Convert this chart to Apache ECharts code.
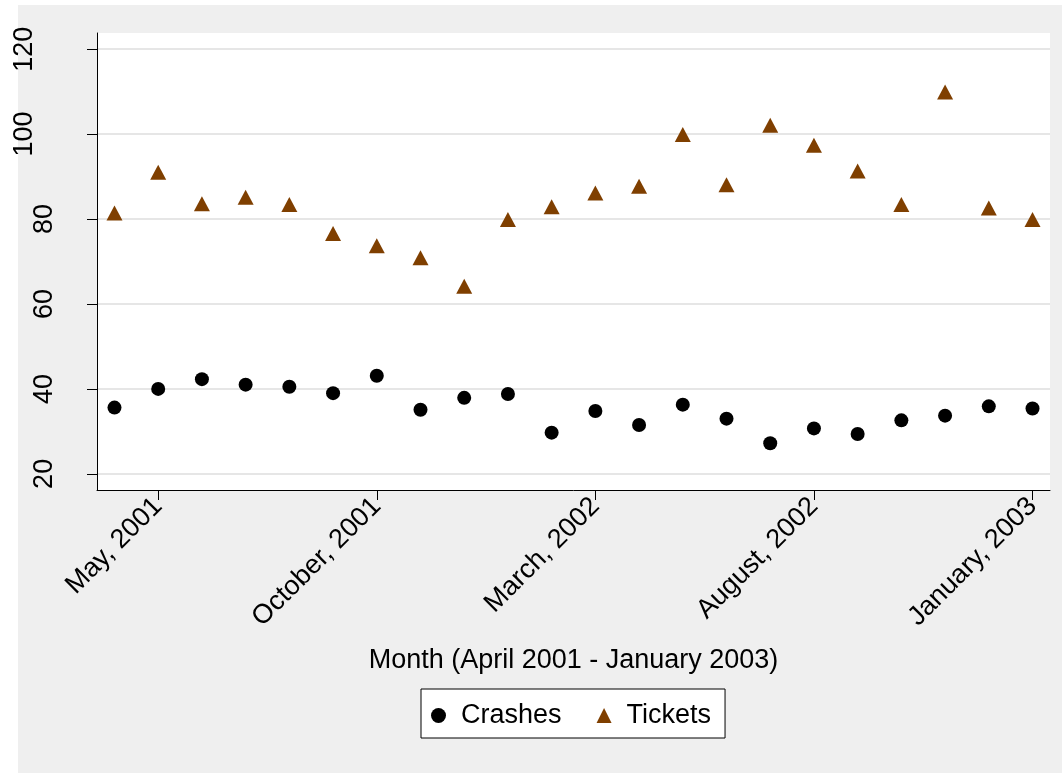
<!DOCTYPE html>
<html>
<head>
<meta charset="utf-8">
<script src="https://cdn.jsdelivr.net/npm/echarts@6/dist/echarts.min.js"></script>
<style>
  html, body { margin: 0; padding: 0; background: #ffffff; }
  #chart { width: 1062px; height: 773px; }
</style>
</head>
<body>
<div id="chart"></div>
<script>
// Monthly counts, April 2001 through January 2003
const months = [
  'April, 2001', 'May, 2001', 'June, 2001', 'July, 2001', 'August, 2001', 'September, 2001',
  'October, 2001', 'November, 2001', 'December, 2001',
  'January, 2002', 'February, 2002', 'March, 2002', 'April, 2002', 'May, 2002', 'June, 2002',
  'July, 2002', 'August, 2002', 'September, 2002', 'October, 2002', 'November, 2002', 'December, 2002',
  'January, 2003'
];
const crashes = [35.6, 40.0, 42.3, 41.0, 40.5, 39.0, 43.1, 35.1, 37.9, 38.8, 29.7,
                 34.8, 31.5, 36.3, 33.0, 27.2, 30.7, 29.4, 32.6, 33.7, 35.9, 35.4];
const tickets = [81.4, 91.0, 83.6, 85.1, 83.4, 76.6, 73.7, 70.9, 64.2, 79.9, 82.9,
                 86.1, 87.7, 99.9, 88.1, 102.1, 97.4, 91.3, 83.4, 109.9, 82.6, 79.9];
const yTicks = [20, 40, 60, 80, 100, 120];
const xTicks = [1, 6, 11, 16, 21]; // every fifth month, starting May 2001

const FONT = 'Liberation Sans, Arial, Helvetica, sans-serif';
const FS = 27;
const BROWN = '#7f3f00';

const chart = echarts.init(document.getElementById('chart'), null, { renderer: 'canvas' });

chart.setOption({
  backgroundColor: '#ffffff',
  animation: false,
  graphic: [
    { type: 'rect', left: 18, top: 5, z: -20, silent: true,
      shape: { width: 1044, height: 768 }, style: { fill: '#efefef' } },
    { type: 'rect', left: 97, top: 33, z: -19, silent: true,
      shape: { width: 953, height: 457 }, style: { fill: '#ffffff' } }
  ],
  grid: { left: 97, right: 12, top: 33, bottom: 283, containLabel: false },
  legend: {
    left: 421, top: 689,
    orient: 'horizontal',
    padding: [13, 14, 9, 10],
    itemGap: 35,
    itemWidth: 15, itemHeight: 15,
    backgroundColor: '#ffffff',
    borderColor: '#000000', borderWidth: 1, borderRadius: 0,
    textStyle: { fontFamily: FONT, fontSize: FS, color: '#000', padding: [0, 0, 0, 10] },
    data: [
      { name: 'Crashes', icon: 'circle', itemStyle: { color: '#000000', opacity: 1 } },
      { name: 'Tickets', icon: 'triangle', itemStyle: { color: BROWN, opacity: 1 } }
    ]
  },
  xAxis: {
    type: 'value', min: -0.4, max: 21.4,
    axisLine: { show: true, onZero: false, lineStyle: { color: '#000', width: 1 } },
    axisTick: { show: true, length: 10, customValues: xTicks, lineStyle: { color: '#000', width: 1 } },
    axisLabel: {
      customValues: xTicks, rotate: 45, margin: 12,
      fontFamily: FONT, fontSize: FS, color: '#000',
      formatter: v => months[Math.round(v)]
    },
    splitLine: { show: false },
    name: 'Month (April 2001 - January 2003)',
    nameLocation: 'middle', nameGap: 157,
    nameTextStyle: { fontFamily: FONT, fontSize: FS, color: '#000' }
  },
  yAxis: {
    type: 'value', min: 16.2, max: 123.8,
    axisLine: { show: true, onZero: false, lineStyle: { color: '#000', width: 1 } },
    axisTick: { show: true, length: 10, customValues: yTicks, lineStyle: { color: '#000', width: 1 } },
    axisLabel: {
      customValues: yTicks, rotate: 90, margin: 39,
      fontFamily: FONT, fontSize: FS, color: '#000',
      formatter: v => (v >= 100 ? '{w|' + v + '}' : '{n|' + v + '}'),
      rich: {
        w: { fontFamily: FONT, fontSize: FS, color: '#000', padding: [0, 0, 20, 0] },
        n: { fontFamily: FONT, fontSize: FS, color: '#000' }
      }
    },
    splitLine: { show: true, lineStyle: { color: '#e6e6e6', width: 2 } }
  },
  series: [
    {
      name: 'Crashes', type: 'scatter',
      symbol: 'circle', symbolSize: 14,
      itemStyle: { color: '#000000', opacity: 1 },
      data: crashes.map((v, i) => [i, v])
    },
    {
      name: 'Tickets', type: 'scatter',
      symbol: 'triangle', symbolSize: [16, 15],
      itemStyle: { color: BROWN, opacity: 1 },
      data: tickets.map((v, i) => [i, v])
    }
  ]
});
</script>
</body>
</html>
